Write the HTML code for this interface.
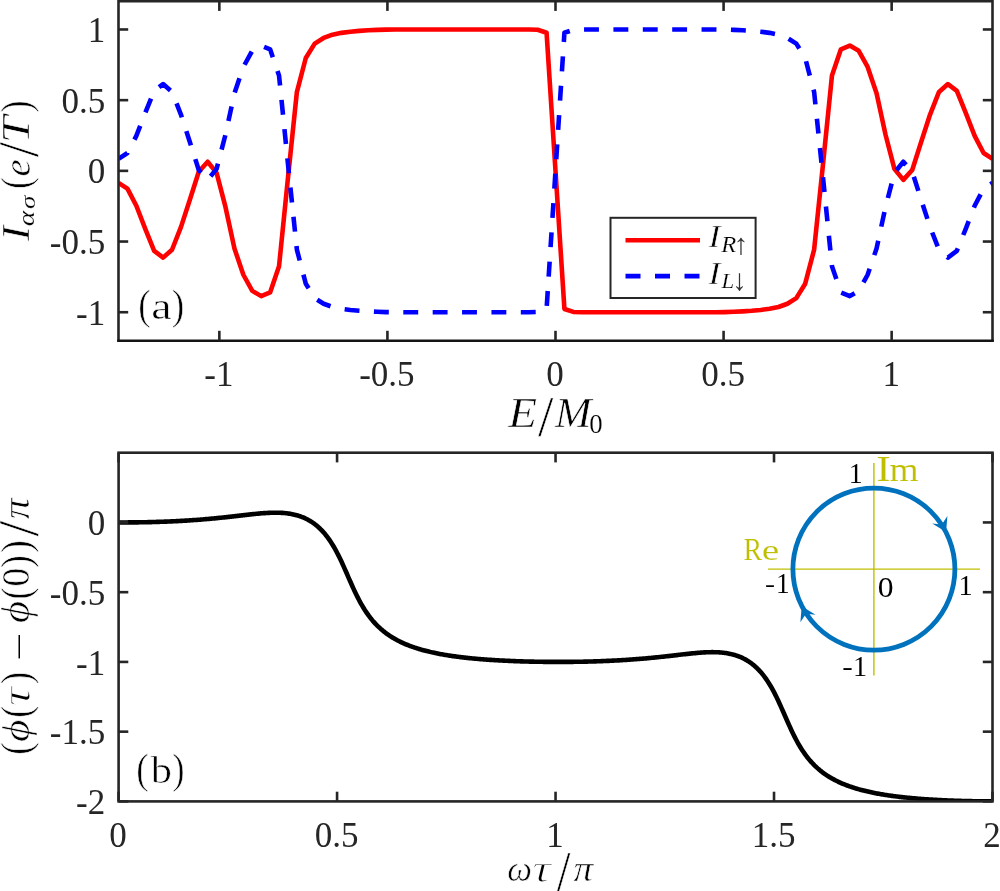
<!DOCTYPE html>
<html><head><meta charset="utf-8"><style>
html,body{margin:0;padding:0;background:#fff;}
svg{display:block;will-change:transform;}
text{font-family:"Liberation Serif",serif;}
</style></head><body>
<svg width="1000" height="891" viewBox="0 0 1000 891">
<rect x="0" y="0" width="1000" height="891" fill="#fff"/>
<defs>
<clipPath id="c1"><rect x="118.5" y="1.2" width="874.0" height="339.3"/></clipPath>
<clipPath id="c2"><rect x="118.6" y="452.7" width="873.9" height="348.7"/></clipPath>
</defs>
<g clip-path="url(#c1)" fill="none" stroke-linejoin="round">
<polyline points="118.50,182.87 127.42,188.66 136.34,205.77 145.26,228.81 154.17,250.87 163.09,257.65 172.01,249.74 180.93,227.12 189.85,199.69 198.77,171.70 207.68,161.80 216.60,172.83 225.52,207.18 234.44,248.46 243.36,274.76 252.28,290.88 261.19,296.11 270.11,292.43 279.03,266.28 287.95,177.92 296.87,92.10 305.79,58.03 314.70,43.61 323.62,37.96 332.54,34.71 341.46,32.87 350.38,31.74 359.30,30.89 368.21,30.32 377.13,29.90 386.05,29.62 394.97,29.47 403.89,29.47 412.81,29.47 421.72,29.47 430.64,29.47 439.56,29.47 448.48,29.47 457.40,29.47 466.32,29.47 475.23,29.47 484.15,29.47 493.07,29.47 501.99,29.47 510.91,29.47 519.83,29.47 528.74,29.47 537.66,29.76 546.58,32.73 555.50,170.85 564.42,308.97 573.34,311.94 582.26,312.23 591.17,312.23 600.09,312.23 609.01,312.23 617.93,312.23 626.85,312.23 635.77,312.23 644.68,312.23 653.60,312.23 662.52,312.23 671.44,312.23 680.36,312.23 689.28,312.23 698.19,312.23 707.11,312.23 716.03,312.23 724.95,312.08 733.87,311.80 742.79,311.38 751.70,310.81 760.62,309.96 769.54,308.83 778.46,306.99 787.38,303.74 796.30,298.09 805.21,283.67 814.13,249.60 823.05,163.78 831.97,75.42 840.89,49.27 849.81,45.59 858.72,50.82 867.64,66.94 876.56,93.24 885.48,134.52 894.40,168.87 903.32,179.90 912.23,170.00 921.15,142.01 930.07,114.58 938.99,91.96 947.91,84.05 956.83,90.83 965.74,112.89 974.66,135.93 983.58,153.04 992.50,158.83" stroke="#ff0000" stroke-width="4.6"/>
<polyline points="118.50,158.83 127.42,153.04 136.34,135.93 145.26,112.89 154.17,90.83 163.09,84.05 172.01,91.96 180.93,114.58 189.85,142.01 198.77,170.00 207.68,179.90 216.60,168.87 225.52,134.52 234.44,93.24 243.36,66.94 252.28,50.82 261.19,45.59 270.11,49.27 279.03,75.42 287.95,163.78 296.87,249.60 305.79,283.67 314.70,298.09 323.62,303.74 332.54,306.99 341.46,308.83 350.38,309.96 359.30,310.81 368.21,311.38 377.13,311.80 386.05,312.08 394.97,312.23 403.89,312.23 412.81,312.23 421.72,312.23 430.64,312.23 439.56,312.23 448.48,312.23 457.40,312.23 466.32,312.23 475.23,312.23 484.15,312.23 493.07,312.23 501.99,312.23 510.91,312.23 519.83,312.23 528.74,312.23 537.66,311.94 546.58,308.97 555.50,170.85 564.42,32.73 573.34,29.76 582.26,29.47 591.17,29.47 600.09,29.47 609.01,29.47 617.93,29.47 626.85,29.47 635.77,29.47 644.68,29.47 653.60,29.47 662.52,29.47 671.44,29.47 680.36,29.47 689.28,29.47 698.19,29.47 707.11,29.47 716.03,29.47 724.95,29.62 733.87,29.90 742.79,30.32 751.70,30.89 760.62,31.74 769.54,32.87 778.46,34.71 787.38,37.96 796.30,43.61 805.21,58.03 814.13,92.10 823.05,177.92 831.97,266.28 840.89,292.43 849.81,296.11 858.72,290.88 867.64,274.76 876.56,248.46 885.48,207.18 894.40,172.83 903.32,161.80 912.23,171.70 921.15,199.69 930.07,227.12 938.99,249.74 947.91,257.65 956.83,250.87 965.74,228.81 974.66,205.77 983.58,188.66 992.50,182.87" stroke="#0000ff" stroke-width="4.6" stroke-dasharray="14.9 14.48" stroke-dashoffset="3.6"/>
</g>
<g stroke="#262626" stroke-width="2.6" fill="none">
<path d="M118.5,341.8 L118.5,1.2 L992.5,1.2 L992.5,341.8"/>
<line x1="117.2" y1="340.7" x2="993.8" y2="340.7" stroke="#141414" stroke-width="2.5"/>
<line x1="219.35" y1="340.5" x2="219.35" y2="330.8"/><line x1="219.35" y1="1.2" x2="219.35" y2="10.899999999999999"/>
<line x1="387.42" y1="340.5" x2="387.42" y2="330.8"/><line x1="387.42" y1="1.2" x2="387.42" y2="10.899999999999999"/>
<line x1="555.50" y1="340.5" x2="555.50" y2="330.8"/><line x1="555.50" y1="1.2" x2="555.50" y2="10.899999999999999"/>
<line x1="723.58" y1="340.5" x2="723.58" y2="330.8"/><line x1="723.58" y1="1.2" x2="723.58" y2="10.899999999999999"/>
<line x1="891.65" y1="340.5" x2="891.65" y2="330.8"/><line x1="891.65" y1="1.2" x2="891.65" y2="10.899999999999999"/>
<line x1="118.5" y1="312.23" x2="128.2" y2="312.23"/><line x1="992.5" y1="312.23" x2="982.8" y2="312.23"/>
<line x1="118.5" y1="241.54" x2="128.2" y2="241.54"/><line x1="992.5" y1="241.54" x2="982.8" y2="241.54"/>
<line x1="118.5" y1="170.85" x2="128.2" y2="170.85"/><line x1="992.5" y1="170.85" x2="982.8" y2="170.85"/>
<line x1="118.5" y1="100.16" x2="128.2" y2="100.16"/><line x1="992.5" y1="100.16" x2="982.8" y2="100.16"/>
<line x1="118.5" y1="29.47" x2="128.2" y2="29.47"/><line x1="992.5" y1="29.47" x2="982.8" y2="29.47"/>
</g>
<g font-size="35" fill="#262626">
<text x="105.2" y="42.07" text-anchor="end">1</text>
<text x="105.2" y="112.76" text-anchor="end">0.5</text>
<text x="105.2" y="183.45" text-anchor="end">0</text>
<text x="105.2" y="254.14" text-anchor="end">-0.5</text>
<text x="105.2" y="324.83" text-anchor="end">-1</text>
<text x="218.85" y="386" text-anchor="middle">-1</text>
<text x="386.92" y="386" text-anchor="middle">-0.5</text>
<text x="555.00" y="386" text-anchor="middle">0</text>
<text x="723.08" y="386" text-anchor="middle">0.5</text>
<text x="891.15" y="386" text-anchor="middle">1</text>
</g>
<rect x="610.5" y="217.8" width="145.1" height="80.2" fill="#fff" stroke="#262626" stroke-width="2"/>
<line x1="625.5" y1="240.2" x2="700" y2="240.2" stroke="#ff0000" stroke-width="4.6"/>
<line x1="625.5" y1="276.1" x2="700" y2="276.1" stroke="#0000ff" stroke-width="4.6" stroke-dasharray="15 14.5"/>
<text transform="matrix(0.3724,0,0,0.3116,708.15,247.10)" font-size="100" font-style="italic" fill="#000" stroke="#fff" stroke-width="0.6" vector-effect="non-scaling-stroke">I</text>
<text transform="matrix(0.2452,0,0,0.2214,721.33,251.90)" font-size="100" font-style="italic" fill="#000" stroke="#fff" stroke-width="0.2" vector-effect="non-scaling-stroke">R</text>
<text transform="matrix(0.2987,0,0,0.2923,733.53,254.43)" font-size="100" fill="#333">↑</text>
<text transform="matrix(0.3724,0,0,0.3222,708.15,283.80)" font-size="100" font-style="italic" fill="#000" stroke="#fff" stroke-width="0.6" vector-effect="non-scaling-stroke">I</text>
<text transform="matrix(0.2286,0,0,0.2184,721.47,287.90)" font-size="100" font-style="italic" fill="#000" stroke="#fff" stroke-width="0.2" vector-effect="non-scaling-stroke">L</text>
<text transform="matrix(0.2901,0,0,0.3008,732.15,290.40)" font-size="100" fill="#333">↓</text>
<text transform="matrix(0.3699,0,0,0.4312,138.27,319.02)" font-size="100" fill="#000" stroke="#fff" stroke-width="0.6" vector-effect="non-scaling-stroke">(</text>
<text transform="matrix(0.4582,0,0,0.3800,151.29,318.83)" font-size="100" fill="#000" stroke="#fff" stroke-width="0.6" vector-effect="non-scaling-stroke">a</text>
<text transform="matrix(0.3777,0,0,0.4312,171.78,319.02)" font-size="100" fill="#000" stroke="#fff" stroke-width="0.6" vector-effect="non-scaling-stroke">)</text>
<text transform="matrix(0.4716,0,0,0.4123,508.25,427.30)" font-size="100" font-style="italic" fill="#000" stroke="#fff" stroke-width="0.6" vector-effect="non-scaling-stroke">E</text>
<text transform="matrix(0.5543,0,0,0.5770,538.00,436.04)" font-size="100" fill="#000" stroke="#fff" stroke-width="0.6" vector-effect="non-scaling-stroke">/</text>
<text transform="matrix(0.4379,0,0,0.4123,555.01,427.30)" font-size="100" font-style="italic" fill="#000" stroke="#fff" stroke-width="0.6" vector-effect="non-scaling-stroke">M</text>
<text transform="matrix(0.2690,0,0,0.2682,589.18,433.14)" font-size="100" fill="#000" stroke="#fff" stroke-width="0.2" vector-effect="non-scaling-stroke">0</text>
<g transform="rotate(-90)">
<text transform="matrix(0.4601,0,0,0.4032,-241.12,28.90)" font-size="100" font-style="italic" fill="#000" stroke="#fff" stroke-width="0.6" vector-effect="non-scaling-stroke">I</text>
<text transform="matrix(0.2912,0,0,0.2365,-226.37,34.46)" font-size="100" font-style="italic" fill="#000" stroke="#fff" stroke-width="0.2" vector-effect="non-scaling-stroke">α</text>
<text transform="matrix(0.2706,0,0,0.2170,-209.11,34.99)" font-size="100" font-style="italic" fill="#000" stroke="#fff" stroke-width="0.2" vector-effect="non-scaling-stroke">σ</text>
<text transform="matrix(0.3387,0,0,0.4279,-188.79,29.69)" font-size="100" fill="#000" stroke="#fff" stroke-width="0.6" vector-effect="non-scaling-stroke">(</text>
<text transform="matrix(0.3891,0,0,0.3722,-176.40,29.54)" font-size="100" font-style="italic" fill="#000" stroke="#fff" stroke-width="0.6" vector-effect="non-scaling-stroke">e</text>
<text transform="matrix(0.5507,0,0,0.5800,-157.20,38.23)" font-size="100" fill="#000" stroke="#fff" stroke-width="0.6" vector-effect="non-scaling-stroke">/</text>
<text transform="matrix(0.4911,0,0,0.4108,-143.31,29.40)" font-size="100" font-style="italic" fill="#000" stroke="#fff" stroke-width="0.6" vector-effect="non-scaling-stroke">T</text>
<text transform="matrix(0.3621,0,0,0.4279,-112.47,29.69)" font-size="100" fill="#000" stroke="#fff" stroke-width="0.6" vector-effect="non-scaling-stroke">)</text>
</g>
<g clip-path="url(#c2)" fill="none"><polyline points="118.60,522.44 119.69,522.44 120.78,522.44 121.88,522.44 122.97,522.44 124.06,522.44 125.15,522.44 126.25,522.43 127.34,522.43 128.43,522.42 129.52,522.42 130.62,522.41 131.71,522.40 132.80,522.39 133.89,522.38 134.99,522.37 136.08,522.36 137.17,522.34 138.26,522.33 139.36,522.31 140.45,522.30 141.54,522.28 142.63,522.26 143.72,522.24 144.82,522.22 145.91,522.20 147.00,522.18 148.09,522.15 149.19,522.13 150.28,522.10 151.37,522.08 152.46,522.05 153.56,522.02 154.65,521.99 155.74,521.96 156.83,521.92 157.93,521.89 159.02,521.86 160.11,521.82 161.20,521.78 162.29,521.75 163.39,521.71 164.48,521.67 165.57,521.62 166.66,521.58 167.76,521.54 168.85,521.49 169.94,521.44 171.03,521.40 172.13,521.35 173.22,521.30 174.31,521.25 175.40,521.19 176.50,521.14 177.59,521.08 178.68,521.03 179.77,520.97 180.87,520.91 181.96,520.85 183.05,520.79 184.14,520.72 185.23,520.66 186.33,520.59 187.42,520.52 188.51,520.45 189.60,520.38 190.70,520.31 191.79,520.24 192.88,520.16 193.97,520.08 195.07,520.01 196.16,519.93 197.25,519.85 198.34,519.76 199.44,519.68 200.53,519.59 201.62,519.51 202.71,519.42 203.81,519.33 204.90,519.24 205.99,519.14 207.08,519.05 208.17,518.95 209.27,518.86 210.36,518.76 211.45,518.66 212.54,518.55 213.64,518.45 214.73,518.35 215.82,518.24 216.91,518.13 218.01,518.02 219.10,517.91 220.19,517.80 221.28,517.69 222.38,517.57 223.47,517.46 224.56,517.34 225.65,517.22 226.75,517.11 227.84,516.99 228.93,516.86 230.02,516.74 231.11,516.62 232.21,516.50 233.30,516.37 234.39,516.25 235.48,516.12 236.58,516.00 237.67,515.87 238.76,515.74 239.85,515.62 240.95,515.49 242.04,515.36 243.13,515.24 244.22,515.11 245.32,514.99 246.41,514.86 247.50,514.74 248.59,514.62 249.68,514.50 250.78,514.38 251.87,514.26 252.96,514.15 254.05,514.03 255.15,513.92 256.24,513.81 257.33,513.71 258.42,513.61 259.52,513.51 260.61,513.41 261.70,513.32 262.79,513.24 263.89,513.15 264.98,513.08 266.07,513.01 267.16,512.94 268.26,512.89 269.35,512.83 270.44,512.79 271.53,512.75 272.62,512.72 273.72,512.70 274.81,512.69 275.90,512.69 276.99,512.70 278.09,512.72 279.18,512.75 280.27,512.79 281.36,512.84 282.46,512.91 283.55,512.99 284.64,513.08 285.73,513.19 286.83,513.31 287.92,513.45 289.01,513.60 290.10,513.78 291.20,513.97 292.29,514.18 293.38,514.40 294.47,514.65 295.56,514.92 296.66,515.22 297.75,515.53 298.84,515.87 299.93,516.23 301.03,516.62 302.12,517.03 303.21,517.48 304.30,517.95 305.40,518.45 306.49,518.98 307.58,519.54 308.67,520.14 309.77,520.77 310.86,521.43 311.95,522.14 313.04,522.88 314.14,523.66 315.23,524.49 316.32,525.35 317.41,526.27 318.50,527.23 319.60,528.24 320.69,529.30 321.78,530.41 322.87,531.58 323.97,532.81 325.06,534.09 326.15,535.44 327.24,536.85 328.34,538.33 329.43,539.87 330.52,541.49 331.61,543.18 332.71,544.94 333.80,546.77 334.89,548.68 335.98,550.66 337.07,552.71 338.17,554.84 339.26,557.03 340.35,559.28 341.44,561.60 342.54,563.96 343.63,566.38 344.72,568.83 345.81,571.30 346.91,573.80 348.00,576.30 349.09,578.80 350.18,581.29 351.28,583.76 352.37,586.20 353.46,588.59 354.55,590.94 355.65,593.24 356.74,595.48 357.83,597.65 358.92,599.76 360.01,601.80 361.11,603.78 362.20,605.68 363.29,607.51 364.38,609.28 365.48,610.98 366.57,612.61 367.66,614.18 368.75,615.69 369.85,617.14 370.94,618.54 372.03,619.87 373.12,621.16 374.22,622.40 375.31,623.59 376.40,624.73 377.49,625.83 378.59,626.89 379.68,627.91 380.77,628.90 381.86,629.84 382.95,630.76 384.05,631.64 385.14,632.49 386.23,633.31 387.32,634.10 388.42,634.87 389.51,635.61 390.60,636.33 391.69,637.02 392.79,637.69 393.88,638.34 394.97,638.97 396.06,639.58 397.16,640.17 398.25,640.74 399.34,641.29 400.43,641.83 401.53,642.35 402.62,642.86 403.71,643.35 404.80,643.83 405.89,644.30 406.99,644.75 408.08,645.19 409.17,645.61 410.26,646.03 411.36,646.43 412.45,646.82 413.54,647.20 414.63,647.57 415.73,647.94 416.82,648.29 417.91,648.63 419.00,648.96 420.10,649.29 421.19,649.61 422.28,649.91 423.37,650.22 424.47,650.51 425.56,650.79 426.65,651.07 427.74,651.35 428.83,651.61 429.93,651.87 431.02,652.12 432.11,652.37 433.20,652.61 434.30,652.84 435.39,653.07 436.48,653.30 437.57,653.52 438.67,653.73 439.76,653.94 440.85,654.14 441.94,654.34 443.04,654.54 444.13,654.73 445.22,654.91 446.31,655.09 447.40,655.27 448.50,655.44 449.59,655.61 450.68,655.78 451.77,655.94 452.87,656.10 453.96,656.25 455.05,656.40 456.14,656.55 457.24,656.70 458.33,656.84 459.42,656.98 460.51,657.11 461.61,657.25 462.70,657.38 463.79,657.50 464.88,657.63 465.98,657.75 467.07,657.87 468.16,657.98 469.25,658.10 470.34,658.21 471.44,658.32 472.53,658.42 473.62,658.53 474.71,658.63 475.81,658.73 476.90,658.83 477.99,658.92 479.08,659.01 480.18,659.10 481.27,659.19 482.36,659.28 483.45,659.37 484.55,659.45 485.64,659.53 486.73,659.61 487.82,659.69 488.92,659.77 490.01,659.84 491.10,659.91 492.19,659.98 493.28,660.05 494.38,660.12 495.47,660.19 496.56,660.25 497.65,660.32 498.75,660.38 499.84,660.44 500.93,660.50 502.02,660.55 503.12,660.61 504.21,660.66 505.30,660.72 506.39,660.77 507.49,660.82 508.58,660.87 509.67,660.92 510.76,660.96 511.86,661.01 512.95,661.05 514.04,661.10 515.13,661.14 516.22,661.18 517.32,661.22 518.41,661.26 519.50,661.29 520.59,661.33 521.69,661.36 522.78,661.40 523.87,661.43 524.96,661.46 526.06,661.49 527.15,661.52 528.24,661.55 529.33,661.58 530.43,661.60 531.52,661.63 532.61,661.65 533.70,661.67 534.79,661.69 535.89,661.72 536.98,661.74 538.07,661.75 539.16,661.77 540.26,661.79 541.35,661.80 542.44,661.82 543.53,661.83 544.63,661.85 545.72,661.86 546.81,661.87 547.90,661.88 549.00,661.89 550.09,661.89 551.18,661.90 552.27,661.91 553.37,661.91 554.46,661.92 555.55,661.92 556.64,661.92 557.73,661.92 558.83,661.92 559.92,661.92 561.01,661.92 562.10,661.92 563.20,661.91 564.29,661.91 565.38,661.90 566.47,661.90 567.57,661.89 568.66,661.88 569.75,661.87 570.84,661.86 571.94,661.85 573.03,661.84 574.12,661.82 575.21,661.81 576.31,661.79 577.40,661.78 578.49,661.76 579.58,661.74 580.67,661.72 581.77,661.70 582.86,661.68 583.95,661.66 585.04,661.63 586.14,661.61 587.23,661.58 588.32,661.56 589.41,661.53 590.51,661.50 591.60,661.47 592.69,661.44 593.78,661.40 594.88,661.37 595.97,661.34 597.06,661.30 598.15,661.26 599.25,661.23 600.34,661.19 601.43,661.15 602.52,661.10 603.61,661.06 604.71,661.02 605.80,660.97 606.89,660.92 607.98,660.88 609.08,660.83 610.17,660.78 611.26,660.73 612.35,660.67 613.45,660.62 614.54,660.56 615.63,660.51 616.72,660.45 617.82,660.39 618.91,660.33 620.00,660.27 621.09,660.20 622.18,660.14 623.28,660.07 624.37,660.00 625.46,659.93 626.55,659.86 627.65,659.79 628.74,659.72 629.83,659.64 630.92,659.56 632.02,659.49 633.11,659.41 634.20,659.33 635.29,659.24 636.39,659.16 637.48,659.07 638.57,658.99 639.66,658.90 640.76,658.81 641.85,658.72 642.94,658.62 644.03,658.53 645.12,658.43 646.22,658.34 647.31,658.24 648.40,658.14 649.49,658.03 650.59,657.93 651.68,657.83 652.77,657.72 653.86,657.61 654.96,657.50 656.05,657.39 657.14,657.28 658.23,657.17 659.33,657.05 660.42,656.94 661.51,656.82 662.60,656.70 663.70,656.59 664.79,656.47 665.88,656.34 666.97,656.22 668.06,656.10 669.16,655.98 670.25,655.85 671.34,655.73 672.43,655.60 673.53,655.48 674.62,655.35 675.71,655.22 676.80,655.10 677.90,654.97 678.99,654.84 680.08,654.72 681.17,654.59 682.27,654.47 683.36,654.34 684.45,654.22 685.54,654.10 686.63,653.98 687.73,653.86 688.82,653.74 689.91,653.63 691.00,653.51 692.10,653.40 693.19,653.29 694.28,653.19 695.37,653.09 696.47,652.99 697.56,652.89 698.65,652.80 699.74,652.72 700.84,652.63 701.93,652.56 703.02,652.49 704.11,652.42 705.21,652.37 706.30,652.31 707.39,652.27 708.48,652.23 709.57,652.20 710.67,652.18 711.76,652.17 712.85,652.17 713.94,652.18 715.04,652.20 716.13,652.23 717.22,652.27 718.31,652.32 719.41,652.39 720.50,652.47 721.59,652.56 722.68,652.67 723.78,652.79 724.87,652.93 725.96,653.08 727.05,653.26 728.15,653.45 729.24,653.66 730.33,653.88 731.42,654.13 732.51,654.40 733.61,654.70 734.70,655.01 735.79,655.35 736.88,655.71 737.98,656.10 739.07,656.51 740.16,656.96 741.25,657.43 742.35,657.93 743.44,658.46 744.53,659.02 745.62,659.62 746.72,660.25 747.81,660.91 748.90,661.62 749.99,662.36 751.09,663.14 752.18,663.97 753.27,664.83 754.36,665.75 755.45,666.71 756.55,667.72 757.64,668.78 758.73,669.89 759.82,671.06 760.92,672.29 762.01,673.57 763.10,674.92 764.19,676.33 765.29,677.81 766.38,679.35 767.47,680.97 768.56,682.66 769.66,684.42 770.75,686.25 771.84,688.16 772.93,690.14 774.02,692.19 775.12,694.32 776.21,696.51 777.30,698.76 778.39,701.08 779.49,703.44 780.58,705.86 781.67,708.31 782.76,710.78 783.86,713.28 784.95,715.78 786.04,718.28 787.13,720.77 788.23,723.24 789.32,725.68 790.41,728.07 791.50,730.42 792.60,732.72 793.69,734.96 794.78,737.13 795.87,739.24 796.96,741.28 798.06,743.26 799.15,745.16 800.24,746.99 801.33,748.76 802.43,750.46 803.52,752.09 804.61,753.66 805.70,755.17 806.80,756.62 807.89,758.02 808.98,759.35 810.07,760.64 811.17,761.88 812.26,763.07 813.35,764.21 814.44,765.31 815.54,766.37 816.63,767.39 817.72,768.38 818.81,769.32 819.90,770.24 821.00,771.12 822.09,771.97 823.18,772.79 824.27,773.58 825.37,774.35 826.46,775.09 827.55,775.81 828.64,776.50 829.74,777.17 830.83,777.82 831.92,778.45 833.01,779.06 834.11,779.65 835.20,780.22 836.29,780.77 837.38,781.31 838.48,781.83 839.57,782.34 840.66,782.83 841.75,783.31 842.84,783.78 843.94,784.23 845.03,784.67 846.12,785.09 847.21,785.51 848.31,785.91 849.40,786.30 850.49,786.68 851.58,787.05 852.68,787.42 853.77,787.77 854.86,788.11 855.95,788.44 857.05,788.77 858.14,789.09 859.23,789.39 860.32,789.70 861.41,789.99 862.51,790.27 863.60,790.55 864.69,790.83 865.78,791.09 866.88,791.35 867.97,791.60 869.06,791.85 870.15,792.09 871.25,792.32 872.34,792.55 873.43,792.78 874.52,793.00 875.62,793.21 876.71,793.42 877.80,793.62 878.89,793.82 879.99,794.02 881.08,794.21 882.17,794.39 883.26,794.57 884.35,794.75 885.45,794.92 886.54,795.09 887.63,795.26 888.72,795.42 889.82,795.58 890.91,795.73 892.00,795.88 893.09,796.03 894.19,796.18 895.28,796.32 896.37,796.46 897.46,796.59 898.56,796.73 899.65,796.86 900.74,796.98 901.83,797.11 902.93,797.23 904.02,797.35 905.11,797.46 906.20,797.58 907.29,797.69 908.39,797.80 909.48,797.90 910.57,798.01 911.66,798.11 912.76,798.21 913.85,798.31 914.94,798.40 916.03,798.49 917.13,798.58 918.22,798.67 919.31,798.76 920.40,798.85 921.50,798.93 922.59,799.01 923.68,799.09 924.77,799.17 925.87,799.25 926.96,799.32 928.05,799.39 929.14,799.46 930.23,799.53 931.33,799.60 932.42,799.67 933.51,799.73 934.60,799.80 935.70,799.86 936.79,799.92 937.88,799.98 938.97,800.03 940.07,800.09 941.16,800.14 942.25,800.20 943.34,800.25 944.44,800.30 945.53,800.35 946.62,800.40 947.71,800.44 948.81,800.49 949.90,800.53 950.99,800.58 952.08,800.62 953.17,800.66 954.27,800.70 955.36,800.74 956.45,800.77 957.54,800.81 958.64,800.84 959.73,800.88 960.82,800.91 961.91,800.94 963.01,800.97 964.10,801.00 965.19,801.03 966.28,801.06 967.38,801.08 968.47,801.11 969.56,801.13 970.65,801.15 971.74,801.17 972.84,801.20 973.93,801.22 975.02,801.23 976.11,801.25 977.21,801.27 978.30,801.28 979.39,801.30 980.48,801.31 981.58,801.33 982.67,801.34 983.76,801.35 984.85,801.36 985.95,801.37 987.04,801.37 988.13,801.38 989.22,801.39 990.32,801.39 991.41,801.40 992.50,801.40" stroke="#000" stroke-width="4.6" stroke-linejoin="round"/></g>
<g stroke="#262626" stroke-width="2.6" fill="none">
<rect x="118.6" y="452.7" width="873.9" height="348.7"/>
<line x1="118.60" y1="801.4" x2="118.60" y2="791.6999999999999"/><line x1="118.60" y1="452.7" x2="118.60" y2="462.4"/>
<line x1="337.07" y1="801.4" x2="337.07" y2="791.6999999999999"/><line x1="337.07" y1="452.7" x2="337.07" y2="462.4"/>
<line x1="555.55" y1="801.4" x2="555.55" y2="791.6999999999999"/><line x1="555.55" y1="452.7" x2="555.55" y2="462.4"/>
<line x1="774.02" y1="801.4" x2="774.02" y2="791.6999999999999"/><line x1="774.02" y1="452.7" x2="774.02" y2="462.4"/>
<line x1="992.50" y1="801.4" x2="992.50" y2="791.6999999999999"/><line x1="992.50" y1="452.7" x2="992.50" y2="462.4"/>
<line x1="118.6" y1="801.40" x2="128.29999999999998" y2="801.40"/><line x1="992.5" y1="801.40" x2="982.8" y2="801.40"/>
<line x1="118.6" y1="731.66" x2="128.29999999999998" y2="731.66"/><line x1="992.5" y1="731.66" x2="982.8" y2="731.66"/>
<line x1="118.6" y1="661.92" x2="128.29999999999998" y2="661.92"/><line x1="992.5" y1="661.92" x2="982.8" y2="661.92"/>
<line x1="118.6" y1="592.18" x2="128.29999999999998" y2="592.18"/><line x1="992.5" y1="592.18" x2="982.8" y2="592.18"/>
<line x1="118.6" y1="522.44" x2="128.29999999999998" y2="522.44"/><line x1="992.5" y1="522.44" x2="982.8" y2="522.44"/>
</g>
<g font-size="35" fill="#262626">
<text x="105.2" y="535.04" text-anchor="end">0</text>
<text x="105.2" y="604.78" text-anchor="end">-0.5</text>
<text x="105.2" y="674.52" text-anchor="end">-1</text>
<text x="105.2" y="744.26" text-anchor="end">-1.5</text>
<text x="105.2" y="814.00" text-anchor="end">-2</text>
<text x="118.10" y="847" text-anchor="middle">0</text>
<text x="336.57" y="847" text-anchor="middle">0.5</text>
<text x="555.05" y="847" text-anchor="middle">1</text>
<text x="773.52" y="847" text-anchor="middle">1.5</text>
<text x="992.00" y="847" text-anchor="middle">2</text>
</g>
<text transform="matrix(0.3699,0,0,0.4290,136.37,783.47)" font-size="100" fill="#000" stroke="#fff" stroke-width="0.6" vector-effect="non-scaling-stroke">(</text>
<text transform="matrix(0.4243,0,0,0.3894,150.70,782.72)" font-size="100" fill="#000" stroke="#fff" stroke-width="0.6" vector-effect="non-scaling-stroke">b</text>
<text transform="matrix(0.3699,0,0,0.4290,172.21,783.47)" font-size="100" fill="#000" stroke="#fff" stroke-width="0.6" vector-effect="non-scaling-stroke">)</text>
<text transform="matrix(0.3498,0,0,0.3594,507.14,881.35)" font-size="100" font-style="italic" fill="#000" stroke="#fff" stroke-width="0.6" vector-effect="non-scaling-stroke">ω</text>
<text transform="matrix(0.5297,0,0,0.3819,532.09,881.68)" font-size="100" font-style="italic" fill="#000" stroke="#fff" stroke-width="1.3" vector-effect="non-scaling-stroke">τ</text>
<text transform="matrix(0.5219,0,0,0.6129,556.00,892.70)" font-size="100" fill="#000" stroke="#fff" stroke-width="0.6" vector-effect="non-scaling-stroke">/</text>
<text transform="matrix(0.3934,0,0,0.3669,573.49,881.34)" font-size="100" font-style="italic" fill="#000" stroke="#fff" stroke-width="0.6" vector-effect="non-scaling-stroke">π</text>
<g transform="rotate(-90)">
<text transform="matrix(0.3816,0,0,0.4279,-754.98,29.69)" font-size="100" fill="#000" stroke="#fff" stroke-width="0.6" vector-effect="non-scaling-stroke">(</text>
<text transform="matrix(0.4329,0,0,0.3860,-741.89,28.88)" font-size="100" font-style="italic" fill="#000" stroke="#fff" stroke-width="0.6" vector-effect="non-scaling-stroke">ϕ</text>
<text transform="matrix(0.3582,0,0,0.4279,-717.77,29.69)" font-size="100" fill="#000" stroke="#fff" stroke-width="0.6" vector-effect="non-scaling-stroke">(</text>
<text transform="matrix(0.5461,0,0,0.3904,-706.55,29.77)" font-size="100" font-style="italic" fill="#000" stroke="#fff" stroke-width="1.3" vector-effect="non-scaling-stroke">τ</text>
<text transform="matrix(0.3777,0,0,0.4279,-684.32,29.69)" font-size="100" fill="#000" stroke="#fff" stroke-width="0.6" vector-effect="non-scaling-stroke">)</text>
<text transform="matrix(0.4245,0,0,0.3904,-622.97,28.89)" font-size="100" font-style="italic" fill="#000" stroke="#fff" stroke-width="0.6" vector-effect="non-scaling-stroke">ϕ</text>
<text transform="matrix(0.3699,0,0,0.4301,-599.53,29.84)" font-size="100" fill="#000" stroke="#fff" stroke-width="0.6" vector-effect="non-scaling-stroke">(</text>
<text transform="matrix(0.3822,0,0,0.3972,-586.66,29.41)" font-size="100" fill="#000" stroke="#fff" stroke-width="0.6" vector-effect="non-scaling-stroke">0</text>
<text transform="matrix(0.3932,0,0,0.4301,-567.97,29.84)" font-size="100" fill="#000" stroke="#fff" stroke-width="0.6" vector-effect="non-scaling-stroke">)</text>
<text transform="matrix(0.3894,0,0,0.4301,-553.05,29.84)" font-size="100" fill="#000" stroke="#fff" stroke-width="0.6" vector-effect="non-scaling-stroke">)</text>
<text transform="matrix(0.5651,0,0,0.5740,-536.40,37.84)" font-size="100" fill="#000" stroke="#fff" stroke-width="0.6" vector-effect="non-scaling-stroke">/</text>
<text transform="matrix(0.4204,0,0,0.3883,-519.33,29.42)" font-size="100" font-style="italic" fill="#000" stroke="#fff" stroke-width="0.6" vector-effect="non-scaling-stroke">π</text>
</g>
<rect x="18.5" y="635" width="1.5" height="23.4" fill="#000"/>
<line x1="768" y1="569.1" x2="980" y2="569.1" stroke="#bfbf00" stroke-width="1.4"/>
<line x1="873.9" y1="463" x2="873.9" y2="675.6" stroke="#bfbf00" stroke-width="1.4"/>
<circle cx="873.9" cy="569.1" r="81.0" fill="none" stroke="#0072bd" stroke-width="4.8"/>
<path d="M946.10,532.00 L932.20,523.50 L941.80,524.40 L947.40,516.00 Z" fill="#0072bd"/>
<path d="M801.70,606.20 L815.60,614.70 L806.00,613.80 L800.40,622.20 Z" fill="#0072bd"/>
<text transform="matrix(0.2784,0,0,0.2939,848.85,482.70)" font-size="100" fill="#000">1</text>
<text transform="matrix(0.3162,0,0,0.2919,877.80,596.91)" font-size="100" fill="#000">0</text>
<text transform="matrix(0.3003,0,0,0.2409,765.09,592.48)" font-size="100" fill="#000">-</text>
<text transform="matrix(0.2727,0,0,0.2939,776.00,593.00)" font-size="100" fill="#000">1</text>
<text transform="matrix(0.2840,0,0,0.3014,958.50,595.10)" font-size="100" fill="#000">1</text>
<text transform="matrix(0.3157,0,0,0.2543,842.13,675.24)" font-size="100" fill="#000">-</text>
<text transform="matrix(0.2812,0,0,0.2939,853.03,675.70)" font-size="100" fill="#000">1</text>
<text transform="matrix(0.4356,0,0,0.3635,876.33,481.30)" font-size="100" fill="#bfbf00" stroke="#fff" stroke-width="0.2" vector-effect="non-scaling-stroke">I</text>
<text transform="matrix(0.3751,0,0,0.3353,889.51,481.30)" font-size="100" fill="#bfbf00" stroke="#fff" stroke-width="0.2" vector-effect="non-scaling-stroke">m</text>
<text transform="matrix(0.2796,0,0,0.3131,743.49,559.90)" font-size="100" fill="#bfbf00" stroke="#fff" stroke-width="0.2" vector-effect="non-scaling-stroke">R</text>
<text transform="matrix(0.3945,0,0,0.2911,761.86,560.12)" font-size="100" fill="#bfbf00" stroke="#fff" stroke-width="0.2" vector-effect="non-scaling-stroke">e</text>
</svg></body></html>
